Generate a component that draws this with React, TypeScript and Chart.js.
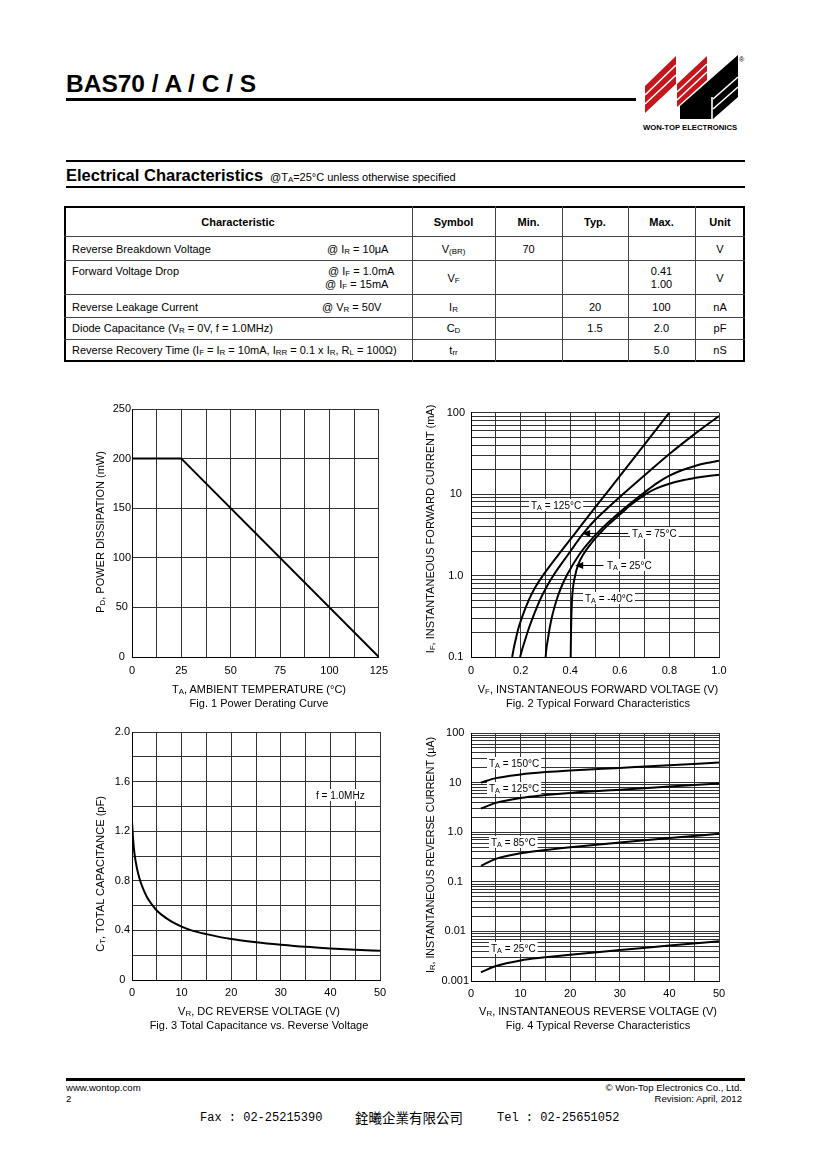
import React, { useEffect, useRef } from "react";
import { Chart, registerables } from "chart.js";

Chart.register(...registerables);

const FONT = '"Liberation Sans", Arial, Helvetica, sans-serif';
const GRID = "#333333";

// ---------- Fig. 1 Power derating ----------
const DERATE_TEMP_C = [0, 25, 125];
const DERATE_POWER_MW = [200, 200, 0];
const FIG1_X_TICKS = [0, 12.5, 25, 37.5, 50, 62.5, 75, 87.5, 100, 112.5, 125];
const FIG1_X_LABELS = ["0", "", "25", "", "50", "", "75", "", "100", "", "125"];
const FIG1_Y_TICKS = [0, 50, 100, 150, 200, 250];
const FIG1_Y_LABELS = ["0", "50", "100", "150", "200", "250"];

// ---------- Fig. 2 Forward characteristics (V, mA) ----------
const FWD_125C_V = [0.166, 0.172, 0.179, 0.191, 0.207, 0.233, 0.258, 0.29, 0.35, 0.415, 0.5, 0.6, 0.7, 0.8];
const FWD_125C_I = [0.1, 0.126, 0.158, 0.224, 0.316, 0.5, 0.708, 1.0, 1.76, 3.16, 6.8, 16.6, 40.7, 100];
const FWD_75C_V = [0.198, 0.207, 0.217, 0.233, 0.251, 0.278, 0.303, 0.332, 0.391, 0.45, 0.5, 0.55, 0.6, 0.7, 0.8, 0.9, 1.0];
const FWD_75C_I = [0.1, 0.126, 0.158, 0.224, 0.316, 0.5, 0.708, 1.0, 1.8, 3.2, 4.8, 6.7, 9.2, 17, 31, 54, 91];
const FWD_25C_V = [0.301, 0.304, 0.309, 0.317, 0.327, 0.345, 0.363, 0.386, 0.436, 0.5, 0.55, 0.6, 0.65, 0.7, 0.75, 0.8, 0.85, 0.9, 0.95, 1.0];
const FWD_25C_I = [0.1, 0.126, 0.158, 0.224, 0.316, 0.5, 0.708, 1.0, 1.8, 3.1, 4.4, 6.0, 8.0, 10.5, 13.6, 16.8, 19.6, 22.0, 24.0, 25.7];
const FWD_M40C_V = [0.402, 0.4033, 0.4058, 0.4095, 0.42, 0.432, 0.452, 0.49, 0.52, 0.55, 0.6, 0.65, 0.7, 0.75, 0.8, 0.85, 0.9, 0.95, 1.0];
const FWD_M40C_I = [0.1, 0.2, 0.4, 0.63, 1.0, 1.35, 1.8, 2.6, 3.3, 4.1, 5.6, 7.6, 9.8, 11.8, 13.4, 14.7, 15.7, 16.6, 17.3];
const FIG2_X_TICKS = [0, 0.1, 0.2, 0.3, 0.4, 0.5, 0.6, 0.7, 0.8, 0.9, 1.0];
const FIG2_X_LABELS = ["0", "", "0.2", "", "0.4", "", "0.6", "", "0.8", "", "1.0"];
const FIG2_Y_DECADES = [0.1, 1, 10, 100];
const FIG2_Y_LABELS = ["0.1", "1.0", "10", "100"];

// ---------- Fig. 3 Capacitance (V, pF) ----------
const CAP_V = [0, 0.25, 0.5, 1, 1.5, 2, 3, 4, 5, 6, 8, 10, 12, 15, 20, 25, 30, 35, 40, 45, 50];
const CAP_PF = [1.28, 1.12, 1.02, 0.9, 0.82, 0.76, 0.67, 0.61, 0.56, 0.525, 0.47, 0.43, 0.4, 0.37, 0.33, 0.305, 0.285, 0.268, 0.255, 0.244, 0.235];
const FIG3_X_TICKS = [0, 5, 10, 15, 20, 25, 30, 35, 40, 45, 50];
const FIG3_X_LABELS = ["0", "", "10", "", "20", "", "30", "", "40", "", "50"];
const FIG3_Y_TICKS = [0, 0.2, 0.4, 0.6, 0.8, 1.0, 1.2, 1.4, 1.6, 1.8, 2.0];
const FIG3_Y_LABELS = ["0", "", "0.4", "", "0.8", "", "1.2", "", "1.6", "", "2.0"];

// ---------- Fig. 4 Reverse characteristics (V, uA) ----------
const REV_V = [2, 5, 10, 15, 20, 30, 40, 50];
const REV_150C_I = [10, 12.3, 14.6, 16.3, 17.6, 19.8, 22.3, 25.5];
const REV_125C_I = [3.0, 3.9, 4.9, 5.6, 6.2, 7.2, 8.3, 9.6];
const REV_85C_I = [0.21, 0.29, 0.375, 0.44, 0.5, 0.62, 0.76, 0.93];
const REV_25C_I = [0.0015, 0.002, 0.0026, 0.003, 0.0034, 0.0042, 0.0052, 0.0063];
const FIG4_X_TICKS = [0, 5, 10, 15, 20, 25, 30, 35, 40, 45, 50];
const FIG4_X_LABELS = ["0", "", "10", "", "20", "", "30", "", "40", "", "50"];
const FIG4_Y_DECADES = [0.001, 0.01, 0.1, 1, 10, 100];
const FIG4_Y_LABELS = ["0.001", "0.01", "0.1", "1.0", "10", "100"];

type Part = { t: string; sub?: boolean };
type Note = { x: number; y: number; parts: Part[]; arrowFrom?: number; arrowTo?: number };
const ta = (rest: string): Part[] => [{ t: "T" }, { t: "A", sub: true }, { t: " = " + rest }];

const FIG2_NOTES: Note[] = [
  { x: 0.242, y: 7.35, parts: ta("125°C") },
  { x: 0.65, y: 3.3, parts: ta("75°C"), arrowFrom: 0.634, arrowTo: 0.448 },
  { x: 0.548, y: 1.33, parts: ta("25°C"), arrowFrom: 0.534, arrowTo: 0.42 },
  { x: 0.46, y: 0.53, parts: ta("-40°C") },
];
const FIG3_NOTES: Note[] = [{ x: 37.1, y: 1.49, parts: [{ t: "f = 1.0MHz" }] }];
const FIG4_NOTES: Note[] = [
  { x: 3.6, y: 24.8, parts: ta("150°C") },
  { x: 3.6, y: 7.95, parts: ta("125°C") },
  { x: 4.0, y: 0.62, parts: ta("85°C") },
  { x: 4.0, y: 0.0047, parts: ta("25°C") },
];

function logGridTicks(decades: number[]) {
  const out: number[] = [];
  for (let i = 0; i < decades.length - 1; i++)
    for (let k = 1; k <= 9; k++) out.push(parseFloat((decades[i] * k).toPrecision(8)));
  out.push(decades[decades.length - 1]);
  return out;
}
function logGridLabels(ticks: number[], decades: number[], labels: string[]) {
  return ticks.map((t) => {
    const j = decades.findIndex((d) => Math.abs(d - t) / d < 1e-6);
    return j >= 0 ? labels[j] : "";
  });
}

function notesPlugin(notes: Note[], size: number) {
  return {
    id: "notes",
    beforeDatasetsDraw(chart: any) {
      const ctx = chart.ctx as CanvasRenderingContext2D;
      const xs = chart.scales.x;
      const ys = chart.scales.y;
      ctx.save();
      for (const n of notes) {
        const px = Math.round(xs.getPixelForValue(n.x));
        const py = Math.round(ys.getPixelForValue(n.y));
        const widths = n.parts.map((p) => {
          ctx.font = `${p.sub ? size * 0.72 : size}px ${FONT}`;
          return ctx.measureText(p.t).width;
        });
        const w = widths.reduce((a, b) => a + b, 0);
        ctx.fillStyle = "#fff";
        ctx.fillRect(px - 2, py - Math.ceil(size * 0.6), w + 4, Math.ceil(size * 1.2));
        if (n.arrowFrom !== undefined && n.arrowTo !== undefined) {
          const a1 = xs.getPixelForValue(n.arrowFrom);
          const a2 = xs.getPixelForValue(n.arrowTo);
          ctx.strokeStyle = "#000";
          ctx.lineWidth = 1;
          ctx.beginPath();
          ctx.moveTo(a1, py + 0.5);
          ctx.lineTo(a2 + 5, py + 0.5);
          ctx.stroke();
          ctx.fillStyle = "#000";
          ctx.beginPath();
          ctx.moveTo(a2, py + 0.5);
          ctx.lineTo(a2 + 8, py - 3);
          ctx.lineTo(a2 + 8, py + 4);
          ctx.closePath();
          ctx.fill();
        }
        ctx.fillStyle = "#000";
        ctx.textBaseline = "alphabetic";
        ctx.textAlign = "left";
        const base = py + size * 0.36;
        let cx = px;
        n.parts.forEach((p, i) => {
          ctx.font = `${p.sub ? size * 0.72 : size}px ${FONT}`;
          ctx.fillText(p.t, cx, p.sub ? base + size * 0.18 : base);
          cx += widths[i];
        });
      }
      ctx.restore();
    },
  };
}

function axis(kind: "x" | "y", type: string, min: number, max: number, ticks: number[], labels: string[], pad: number) {
  return {
    type,
    min,
    max,
    afterBuildTicks: (s: any) => {
      s.ticks = ticks.map((v) => ({ value: v }));
    },
    afterFit: (s: any) => {
      if (kind === "x") s.height = 27;
      else s.width = 40;
    },
    ticks: {
      autoSkip: false,
      maxRotation: 0,
      minRotation: 0,
      padding: pad,
      color: "#000",
      crossAlign: kind === "y" ? "center" : "near",
      font: { family: FONT, size: 11 },
      callback: (_v: any, i: number) => labels[i],
    },
    grid: { color: GRID, lineWidth: 1, drawTicks: false },
    border: { display: true, color: "#000", width: 1 },
  };
}

type Series = { x: number[]; y: number[]; smooth: boolean };
type PlotSpec = {
  xType: string; xMin: number; xMax: number; xTicks: number[]; xLabels: string[]; xPad: number;
  yType: string; yMin: number; yMax: number; yTicks: number[]; yLabels: string[]; yPad: number;
  series: Series[]; notes: Note[]; noteSize: number;
};

function buildConfig(p: PlotSpec): any {
  return {
    type: "line",
    data: {
      datasets: p.series.map((s) => ({
        data: s.x.map((x, i) => ({ x, y: s.y[i] })),
        borderColor: "#000",
        borderWidth: 2,
        pointRadius: 0,
        fill: false,
        tension: 0,
        cubicInterpolationMode: s.smooth ? "monotone" : "default",
        borderJoinStyle: "round",
      })),
    },
    options: {
      animation: false,
      responsive: false,
      maintainAspectRatio: false,
      events: [],
      layout: { padding: { left: 0, top: 10, right: 15, bottom: 0 } },
      plugins: { legend: { display: false }, tooltip: { enabled: false }, title: { display: false } },
      scales: {
        x: axis("x", p.xType, p.xMin, p.xMax, p.xTicks, p.xLabels, p.xPad),
        y: axis("y", p.yType, p.yMin, p.yMax, p.yTicks, p.yLabels, p.yPad),
      },
    },
    plugins: [notesPlugin(p.notes, p.noteSize)],
  };
}

type Area = { l: number; t: number; r: number; b: number };

function Plot({ area, spec }: { area: Area; spec: PlotSpec }) {
  const ref = useRef<HTMLCanvasElement>(null);
  useEffect(() => {
    const chart = new Chart(ref.current as HTMLCanvasElement, buildConfig(spec));
    return () => chart.destroy();
  }, []);
  const w = area.r - area.l + 55;
  const h = area.b - area.t + 37;
  return (
    <canvas
      ref={ref}
      width={w}
      height={h}
      style={{ position: "absolute", left: area.l - 40, top: area.t - 10, width: w, height: h }}
    />
  );
}

const Sub = ({ children }: { children: React.ReactNode }) => (
  <span style={{ fontSize: "0.72em", position: "relative", top: "0.18em" }}>{children}</span>
);

function Txt({
  x, y, size = 11, bold = false, align = "left", family = FONT, children,
}: {
  x: number; y: number; size?: number; bold?: boolean; align?: "left" | "center" | "right"; family?: string; children: React.ReactNode;
}) {
  const base: React.CSSProperties = {
    position: "absolute",
    top: y - size / 2,
    fontSize: size,
    lineHeight: `${size}px`,
    fontWeight: bold ? 700 : 400,
    fontFamily: family,
    whiteSpace: "nowrap",
    color: "#000",
  };
  if (align === "left") return <div style={{ ...base, left: x }}>{children}</div>;
  if (align === "center") return <div style={{ ...base, left: x - 300, width: 600, textAlign: "center" }}>{children}</div>;
  return <div style={{ ...base, left: x - 600, width: 600, textAlign: "right" }}>{children}</div>;
}

function VTxt({ x, y, size = 11, children }: { x: number; y: number; size?: number; children: React.ReactNode }) {
  return (
    <div
      style={{
        position: "absolute",
        left: x,
        top: y,
        transform: "translate(-50%, -50%) rotate(-90deg)",
        fontSize: size,
        lineHeight: `${size}px`,
        fontFamily: FONT,
        whiteSpace: "nowrap",
        color: "#000",
      }}
    >
      {children}
    </div>
  );
}

function Rule({ x1, x2, y, h, color = "#000" }: { x1: number; x2: number; y: number; h: number; color?: string }) {
  return <div style={{ position: "absolute", left: x1, top: y, width: x2 - x1, height: h, background: color }} />;
}
function VRule({ x, y1, y2, w, color = "#000" }: { x: number; y1: number; y2: number; w: number; color?: string }) {
  return <div style={{ position: "absolute", left: x, top: y1, width: w, height: y2 - y1, background: color }} />;
}

const FIG1_SPEC: PlotSpec = {
  xType: "linear", xMin: 0, xMax: 125, xTicks: FIG1_X_TICKS, xLabels: FIG1_X_LABELS, xPad: 7,
  yType: "linear", yMin: 0, yMax: 250, yTicks: FIG1_Y_TICKS, yLabels: FIG1_Y_LABELS, yPad: 1,
  series: [{ x: DERATE_TEMP_C, y: DERATE_POWER_MW, smooth: false }],
  notes: [], noteSize: 10,
};
const FIG2_Y_TICKS = logGridTicks(FIG2_Y_DECADES);
const FIG2_SPEC: PlotSpec = {
  xType: "linear", xMin: 0, xMax: 1, xTicks: FIG2_X_TICKS, xLabels: FIG2_X_LABELS, xPad: 7,
  yType: "logarithmic", yMin: 0.1, yMax: 100, yTicks: FIG2_Y_TICKS,
  yLabels: logGridLabels(FIG2_Y_TICKS, FIG2_Y_DECADES, FIG2_Y_LABELS), yPad: 6,
  series: [
    { x: FWD_125C_V, y: FWD_125C_I, smooth: true },
    { x: FWD_75C_V, y: FWD_75C_I, smooth: true },
    { x: FWD_25C_V, y: FWD_25C_I, smooth: true },
    { x: FWD_M40C_V, y: FWD_M40C_I, smooth: true },
  ],
  notes: FIG2_NOTES, noteSize: 10,
};
const FIG3_SPEC: PlotSpec = {
  xType: "linear", xMin: 0, xMax: 50, xTicks: FIG3_X_TICKS, xLabels: FIG3_X_LABELS, xPad: 6,
  yType: "linear", yMin: 0, yMax: 2, yTicks: FIG3_Y_TICKS, yLabels: FIG3_Y_LABELS, yPad: 2,
  series: [{ x: CAP_V, y: CAP_PF, smooth: true }],
  notes: FIG3_NOTES, noteSize: 10,
};
const FIG4_Y_TICKS = logGridTicks(FIG4_Y_DECADES);
const FIG4_SPEC: PlotSpec = {
  xType: "linear", xMin: 0, xMax: 50, xTicks: FIG4_X_TICKS, xLabels: FIG4_X_LABELS, xPad: 6,
  yType: "logarithmic", yMin: 0.001, yMax: 100, yTicks: FIG4_Y_TICKS,
  yLabels: logGridLabels(FIG4_Y_TICKS, FIG4_Y_DECADES, FIG4_Y_LABELS), yPad: 2,
  series: [
    { x: REV_V, y: REV_150C_I, smooth: true },
    { x: REV_V, y: REV_125C_I, smooth: true },
    { x: REV_V, y: REV_85C_I, smooth: true },
    { x: REV_V, y: REV_25C_I, smooth: true },
  ],
  notes: FIG4_NOTES, noteSize: 10,
};

function Logo() {
  const red = "#c4161c";
  return (
    <svg width={820} height={140} style={{ position: "absolute", left: 0, top: 0 }}>
      <polygon points="645,86 676,56 676,84 645,113" fill={red} />
      <polygon points="677,84 707,56 707,80 677,107" fill={red} />
      <polygon points="680,106 738,55 738,97 713,119 680,119" fill="#000" />
      <g stroke="#fff" strokeWidth={1.6}>
        <line x1={645} y1={95} x2={676} y2={65} />
        <line x1={645} y1={104} x2={676} y2={75} />
        <line x1={677} y1={92} x2={707} y2={64} />
        <line x1={677} y1={100} x2={707} y2={72} />
        <line x1={713} y1={99} x2={738} y2={77} />
        <line x1={713} y1={109} x2={738} y2={87} />
        <line x1={712} y1={97} x2={712} y2={120} />
      </g>
      <text x={739} y={62} fontSize={7} fontFamily={FONT}>®</text>
    </svg>
  );
}

export default function App() {
  const symCol = 453.5, minCol = 528.5, typCol = 595, maxCol = 661.5, unitCol = 720;
  return (
    <div
      style={{
        position: "absolute", left: 0, top: 0, width: 820, height: 1160,
        background: "#fff", fontFamily: FONT, color: "#000", overflow: "hidden",
      }}
    >
      {/* Header */}
      <Txt x={66} y={84.5} size={24.5} bold>BAS70 / A / C / S</Txt>
      <Rule x1={66} x2={636} y={98} h={3} />
      <Logo />
      <Txt x={643} y={128} size={7.7} bold>WON-TOP ELECTRONICS</Txt>

      <Rule x1={66} x2={745} y={160} h={2} />
      <Txt x={66} y={175} size={16.5} bold>Electrical Characteristics</Txt>
      <Txt x={270} y={177} size={11}>@T<Sub>A</Sub>=25°C unless otherwise specified</Txt>
      <Rule x1={66} x2={745} y={186} h={2} />

      {/* Table */}
      <div style={{ position: "absolute", left: 64, top: 206, width: 681, height: 156, border: "2px solid #000", boxSizing: "border-box" }} />
      {[236, 260, 294, 317, 339].map((y) => (
        <Rule key={y} x1={64} x2={745} y={y} h={1} color="#444" />
      ))}
      {[412, 495, 562, 628, 695].map((x) => (
        <VRule key={x} x={x} y1={206} y2={362} w={1} color="#444" />
      ))}
      <Txt x={238} y={222} bold align="center">Characteristic</Txt>
      <Txt x={symCol} y={222} bold align="center">Symbol</Txt>
      <Txt x={minCol} y={222} bold align="center">Min.</Txt>
      <Txt x={typCol} y={222} bold align="center">Typ.</Txt>
      <Txt x={maxCol} y={222} bold align="center">Max.</Txt>
      <Txt x={unitCol} y={222} bold align="center">Unit</Txt>

      <Txt x={72} y={249}>Reverse Breakdown Voltage</Txt>
      <Txt x={327} y={249}>@ I<Sub>R</Sub> = 10μA</Txt>
      <Txt x={symCol} y={249} align="center">V<Sub>(BR)</Sub></Txt>
      <Txt x={minCol} y={249} align="center">70</Txt>
      <Txt x={unitCol} y={249} align="center">V</Txt>

      <Txt x={72} y={271}>Forward Voltage Drop</Txt>
      <Txt x={328} y={271}>@ I<Sub>F</Sub> = 1.0mA</Txt>
      <Txt x={325} y={284.5}>@ I<Sub>F</Sub> = 15mA</Txt>
      <Txt x={symCol} y={278} align="center">V<Sub>F</Sub></Txt>
      <Txt x={maxCol} y={271} align="center">0.41</Txt>
      <Txt x={maxCol} y={284.5} align="center">1.00</Txt>
      <Txt x={unitCol} y={278} align="center">V</Txt>

      <Txt x={72} y={307}>Reverse Leakage Current</Txt>
      <Txt x={322} y={307}>@ V<Sub>R</Sub> = 50V</Txt>
      <Txt x={symCol} y={307} align="center">I<Sub>R</Sub></Txt>
      <Txt x={typCol} y={307} align="center">20</Txt>
      <Txt x={maxCol} y={307} align="center">100</Txt>
      <Txt x={unitCol} y={307} align="center">nA</Txt>

      <Txt x={72} y={328.5}>Diode Capacitance (V<Sub>R</Sub> = 0V, f = 1.0MHz)</Txt>
      <Txt x={symCol} y={328.5} align="center">C<Sub>D</Sub></Txt>
      <Txt x={typCol} y={328.5} align="center">1.5</Txt>
      <Txt x={maxCol} y={328.5} align="center">2.0</Txt>
      <Txt x={unitCol} y={328.5} align="center">pF</Txt>

      <Txt x={72} y={350.5}>
        Reverse Recovery Time (I<Sub>F</Sub> = I<Sub>R</Sub> = 10mA, I<Sub>RR</Sub> = 0.1 x I<Sub>R</Sub>, R<Sub>L</Sub> = 100Ω)
      </Txt>
      <Txt x={symCol} y={350.5} align="center">t<Sub>rr</Sub></Txt>
      <Txt x={maxCol} y={350.5} align="center">5.0</Txt>
      <Txt x={unitCol} y={350.5} align="center">nS</Txt>

      {/* Charts */}
      <Plot area={{ l: 132, t: 409, r: 380, b: 657 }} spec={FIG1_SPEC} />
      <Plot area={{ l: 471, t: 410, r: 719, b: 657 }} spec={FIG2_SPEC} />
      <Plot area={{ l: 132, t: 732, r: 380, b: 980 }} spec={FIG3_SPEC} />
      <Plot area={{ l: 471, t: 733, r: 719, b: 981 }} spec={FIG4_SPEC} />

      {/* Chart titles */}
      <VTxt x={101} y={531.5}>P<Sub>D</Sub>, POWER DISSIPATION (mW)</VTxt>
      <Txt x={259} y={689} align="center">T<Sub>A</Sub>, AMBIENT TEMPERATURE (°C)</Txt>
      <Txt x={259} y={703} align="center">Fig. 1 Power Derating Curve</Txt>

      <VTxt x={431} y={529}>I<Sub>F</Sub>, INSTANTANEOUS FORWARD CURRENT (mA)</VTxt>
      <Txt x={598} y={689} align="center">V<Sub>F</Sub>, INSTANTANEOUS FORWARD VOLTAGE (V)</Txt>
      <Txt x={598} y={703} align="center">Fig. 2 Typical Forward Characteristics</Txt>

      <VTxt x={101} y={874}>C<Sub>T</Sub>, TOTAL CAPACITANCE (pF)</VTxt>
      <Txt x={259} y={1011} align="center">V<Sub>R</Sub>, DC REVERSE VOLTAGE (V)</Txt>
      <Txt x={259} y={1025} align="center">Fig. 3 Total Capacitance vs. Reverse Voltage</Txt>

      <VTxt x={431} y={855} size={10.7}>I<Sub>R</Sub>, INSTANTANEOUS REVERSE CURRENT (µA)</VTxt>
      <Txt x={598} y={1011} align="center">V<Sub>R</Sub>, INSTANTANEOUS REVERSE VOLTAGE (V)</Txt>
      <Txt x={598} y={1025} align="center">Fig. 4 Typical Reverse Characteristics</Txt>

      {/* Footer */}
      <Rule x1={66} x2={745} y={1078} h={3} />
      <Txt x={66} y={1088} size={9.6}>www.wontop.com</Txt>
      <Txt x={66} y={1099} size={9.6}>2</Txt>
      <Txt x={742} y={1088} size={9.6} align="right">© Won-Top Electronics Co., Ltd.</Txt>
      <Txt x={742} y={1099} size={9.6} align="right">Revision: April, 2012</Txt>
      <Txt x={200} y={1118} size={12} family={'"Liberation Mono", "DejaVu Sans Mono", monospace'}>Fax : 02-25215390</Txt>
      <Txt x={355} y={1118} size={13.5} family={'"Noto Sans CJK TC", sans-serif'}>銓曦企業有限公司</Txt>
      <Txt x={497} y={1118} size={12} family={'"Liberation Mono", "DejaVu Sans Mono", monospace'}>Tel : 02-25651052</Txt>
    </div>
  );
}
